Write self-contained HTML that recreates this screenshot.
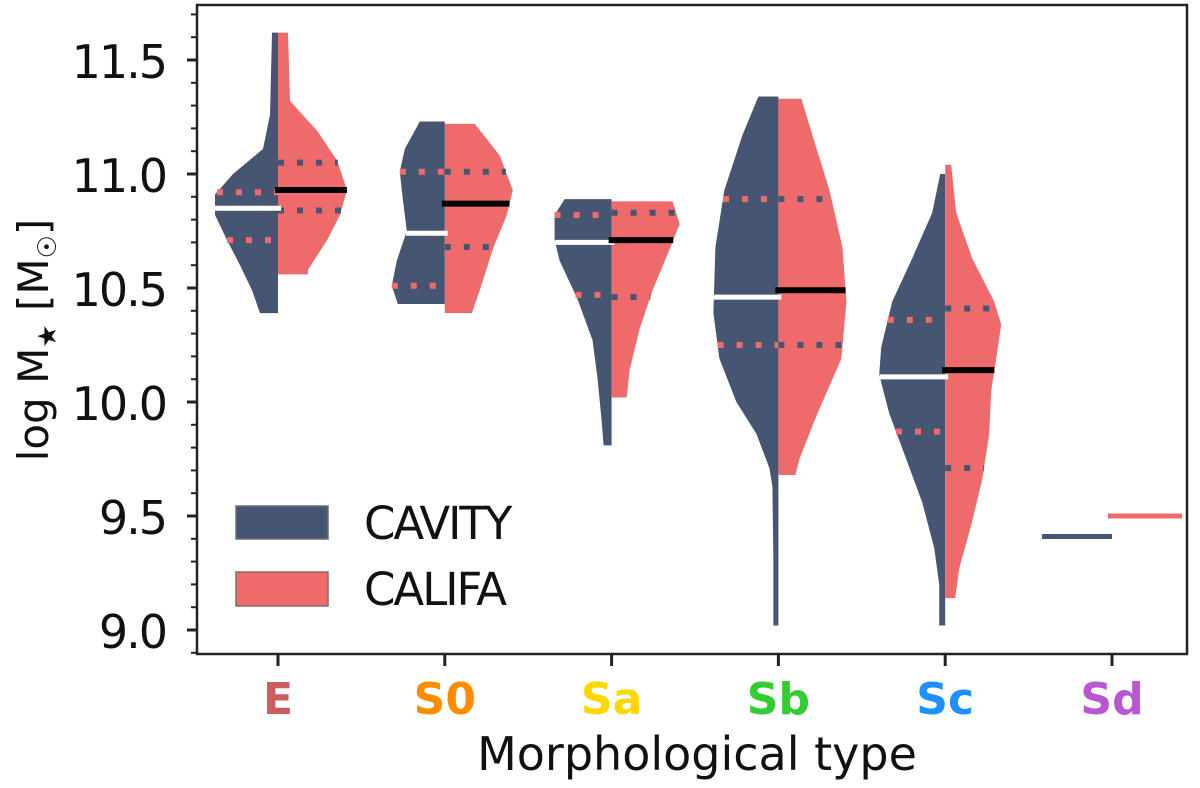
<!DOCTYPE html>
<html><head><meta charset="utf-8"><style>
body{margin:0;background:#fff;}
svg{display:block;font-family:"DejaVu Sans","Liberation Sans",sans-serif;}
</style></head><body>
<svg id="chart" width="1200" height="788" viewBox="0 0 1200 788" xmlns="http://www.w3.org/2000/svg"></svg>
<script>
const categories=["E","S0","Sa","Sb","Sc","Sd"];
const catColors=["#cd5c5c","#ff8c00","#ffd700","#32cd32","#1e90ff","#ba55d3"];
const yTicks=[9.0,9.5,10.0,10.5,11.0,11.5];
const yTickLabels=["9.0","9.5","10.0","10.5","11.0","11.5"];
// CAVITY profiles: mass values and densities
const cavV=[
[11.62,11.26,11.11,11.00,10.91,10.82,10.71,10.60,10.49,10.39],
[11.23,11.11,11.01,10.89,10.75,10.62,10.51,10.43],
[10.89,10.82,10.71,10.62,10.45,10.27,10.10,9.92,9.81],
[11.34,11.17,10.93,10.68,10.39,10.19,10.00,9.86,9.71,9.63,9.30,9.02],
[11.00,10.83,10.63,10.44,10.24,10.12,9.95,9.75,9.56,9.36,9.20,9.02],
[]];
const cavD=[
[6,8,15,45,63,63,51,38,26,18],
[25,40,45,42,38,48,53,47],
[47,57,57,52,34,19,14,10,8],
[20,36,54,63,65,59,42,22,9,6,5,5],
[5,13,33,53,64,66,56,39,23,11,6,6],
[]];
const calV=[
[11.62,11.32,11.19,11.06,10.93,10.82,10.71,10.58,10.56],
[11.22,11.08,10.93,10.82,10.67,10.49,10.39],
[10.88,10.78,10.67,10.49,10.32,10.14,10.02],
[11.33,11.17,10.93,10.68,10.44,10.19,9.95,9.75,9.68],
[11.04,10.83,10.63,10.44,10.34,10.19,10.05,9.86,9.66,9.46,9.27,9.14],
[]];
const calD=[
[10,12,39,59,69,62,49,30,30],
[30,55,68,62,48,35,27],
[61,68,58,41,28,18,15],
[23,34,51,64,68,63,39,21,17],
[6,11,27,49,56,51,46,44,37,26,14,10],
[]];
const cavMed=[10.85,10.74,10.70,10.46,10.11,9.41];
const cavQ1=[10.71,10.51,10.47,10.25,9.87,null];
const cavQ3=[10.92,11.01,10.82,10.89,10.36,null];
const calMed=[10.93,10.87,10.71,10.49,10.14,9.50];
const calQ1=[10.84,10.68,10.46,10.25,9.71,null];
const calQ3=[11.05,11.01,10.83,10.89,10.41,null];

const NS="http://www.w3.org/2000/svg";
const svg=document.getElementById('chart');
const L=197,R=1187,T=5,B=654;
const NAVY="#465672",CORAL="#ef6b6b";
function y(v){return 174+(11.0-v)*228;}
function x(i){return 278+i*166.8;}
function el(tag,attrs,parent){const e=document.createElementNS(NS,tag);for(const k in attrs)e.setAttribute(k,attrs[k]);(parent||svg).appendChild(e);return e;}

const plot=el('g',{});



function violin(i,vals,dens,side,color){
  if(!vals.length)return;
  const cx=x(i);
  let pts=[[cx,y(vals[0])]];
  for(let k=0;k<vals.length;k++)pts.push([cx+side*dens[k],y(vals[k])]);
  pts.push([cx,y(vals[vals.length-1])]);
  const p=el('polygon',{points:pts.map(p=>p.join(',')).join(' '),fill:color},plot);
  
  
}
function hline(x1,x2,v,color,w,dash,name){
  const l=el('line',{x1:x1,x2:x2,y1:y(v),y2:y(v),stroke:color,'stroke-width':w},plot);
  if(dash)l.setAttribute('stroke-dasharray',dash);
  
  
}
function widthAt(vals,dens,v){
  for(let k=0;k<vals.length-1;k++){
    if(v<=vals[k]&&v>=vals[k+1]){const t=(vals[k]-v)/(vals[k]-vals[k+1]);return dens[k]+t*(dens[k+1]-dens[k]);}
  }return 0;
}
categories.forEach((c,i)=>{
  const cx=x(i);
  violin(i,cavV[i],cavD[i],-1,NAVY);
  violin(i,calV[i],calD[i],1,CORAL);
  if(!cavV[i].length){
    hline(cx-70,cx,cavMed[i],NAVY,5,null,'cavity-line-'+c);
    hline(cx-4,cx+70,calMed[i],CORAL,5,null,'califa-line-'+c);
    return;
  }
  [cavQ1[i],cavQ3[i]].forEach(q=>{const w=widthAt(cavV[i],cavD[i],q);hline(cx-w,cx,q,CORAL,6,'6 13','cavity-quartile-'+c);});
  [calQ1[i],calQ3[i]].forEach(q=>{const w=widthAt(calV[i],calD[i],q);hline(cx,cx+w,q,NAVY,6,'6 13','califa-quartile-'+c);});
  const wm=widthAt(cavV[i],cavD[i],cavMed[i]);
  hline(cx-wm,cx+3,cavMed[i],'#ffffff',5,null,'cavity-median-'+c);
  const wc=widthAt(calV[i],calD[i],calMed[i]);
  hline(cx-3,cx+wc,calMed[i],'#000000',6,null,'califa-median-'+c);
});

const frame=el('rect',{x:L,y:T,width:R-L,height:B-T,fill:'none',stroke:'#222',"stroke-width":2.5});


for(let v=8.9;v<=11.81;v+=0.1){
  const t=el('line',{x1:L-6,x2:L,y1:y(v),y2:y(v),stroke:'#222','stroke-width':2});
  
  
}
yTicks.forEach((v,k)=>{
  const t=el('line',{x1:L-10,x2:L,y1:y(v),y2:y(v),stroke:'#222','stroke-width':3});
  
  
  const tx=el('text',{x:166,y:y(v)+18,'text-anchor':'end','font-size':46,fill:'#111','letter-spacing':'-2'});
  tx.textContent=yTickLabels[k];
  
  
});
categories.forEach((c,i)=>{
  const t=el('line',{x1:x(i),x2:x(i),y1:B,y2:B+12,stroke:'#222','stroke-width':3});
  
  
  const tx=el('text',{x:x(i),y:714,'text-anchor':'middle','font-size':44,'font-weight':'bold',fill:catColors[i]});
  tx.textContent=c;
  
  
});
const xt=el('text',{x:697,y:770,'text-anchor':'middle','font-size':46,fill:'#111'});
xt.textContent='Morphological type';


const yt=el('text',{x:0,y:0,'text-anchor':'middle','font-size':42,fill:'#111',transform:'translate(48,340) rotate(-90)'});
yt.innerHTML='log M<tspan font-size="26" dy="8">★</tspan><tspan dy="-8"> [M</tspan><tspan font-size="26" dy="8">☉</tspan><tspan dy="-8">]</tspan>';



const leg=el('g',{});


const s1=el('rect',{x:236,y:506,width:92,height:33,fill:NAVY,stroke:'#6b6f7a','stroke-width':1.5},leg);


const t1=el('text',{x:364,y:539,'font-size':45,fill:'#111','letter-spacing':'-2'},leg);
t1.textContent='CAVITY';


const s2=el('rect',{x:236,y:572,width:92,height:34,fill:CORAL,stroke:'#8a6a6a','stroke-width':1.5},leg);


const t2=el('text',{x:364,y:605,'font-size':45,fill:'#111','letter-spacing':'-2'},leg);
t2.textContent='CALIFA';


</script>
</body></html>
